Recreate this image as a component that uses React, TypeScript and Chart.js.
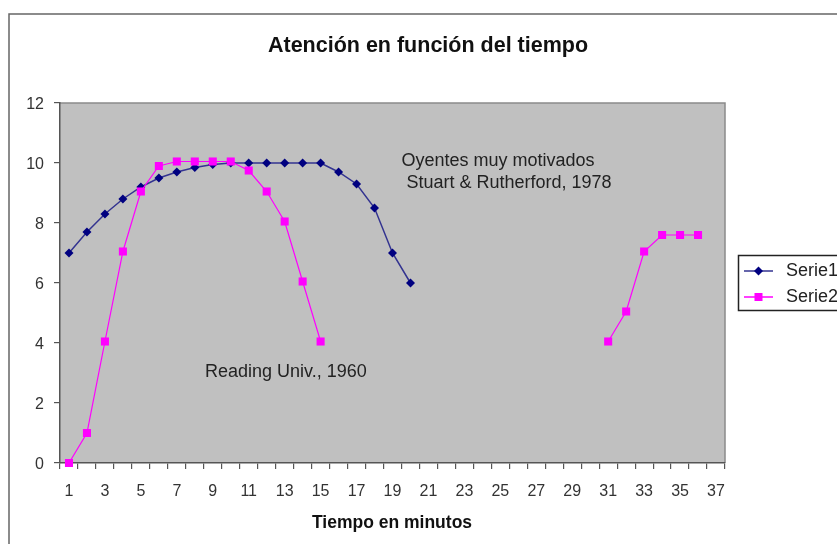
import React, { useEffect, useRef } from 'react';
import { Chart, registerables } from 'chart.js';

Chart.register(...registerables);

const FONT = '"Liberation Sans", Arial, sans-serif';

const categories = [
  '1', '2', '3', '4', '5', '6', '7', '8', '9', '10',
  '11', '12', '13', '14', '15', '16', '17', '18', '19', '20',
  '21', '22', '23', '24', '25', '26', '27', '28', '29', '30',
  '31', '32', '33', '34', '35', '36', '37',
];

const serie1 = [
  7, 7.7, 8.3, 8.8, 9.2, 9.5, 9.7, 9.85, 9.95, 10,
  10, 10, 10, 10, 10, 9.7, 9.3, 8.5, 7, 6,
];

const serie2 = [
  0, 1, 4.05, 7.05, 9.05, 9.9, 10.05, 10.05, 10.05, 10.05,
  9.75, 9.05, 8.05, 6.05, 4.05, null, null, null, null, null,
  null, null, null, null, null, null, null, null, null, null,
  4.05, 5.05, 7.05, 7.6, 7.6, 7.6,
];

const yTicks = [0, 2, 4, 6, 8, 10, 12];

const titleText = 'Atención en función del tiempo';
const xAxisTitle = 'Tiempo en minutos';
const legendLabels = ['Serie1', 'Serie2'];

const annotations = [
  { text: 'Oyentes muy motivados', minute: 19.5, value: 10.05 },
  { text: ' Stuart & Rutherford, 1978', minute: 19.5, value: 9.33 },
  { text: 'Reading Univ., 1960', minute: 8.57, value: 3.03 },
];

const NAVY = '#000080';
const NAVY_LINE = '#333390';
const MAGENTA = '#ff00ff';

function diamond(ctx: CanvasRenderingContext2D, x: number, y: number, r: number) {
  ctx.beginPath();
  ctx.moveTo(x, y - r);
  ctx.lineTo(x + r, y);
  ctx.lineTo(x, y + r);
  ctx.lineTo(x - r, y);
  ctx.closePath();
  ctx.fill();
}

const decorPlugin = {
  id: 'decor',
  beforeDraw(chart: any) {
    const { ctx, chartArea } = chart;
    ctx.save();
    ctx.fillStyle = '#ffffff';
    ctx.fillRect(0, 0, chart.width, chart.height);
    ctx.strokeStyle = '#666666';
    ctx.lineWidth = 1.5;
    ctx.strokeRect(9, 14, chart.width + 20, chart.height + 20);
    ctx.fillStyle = '#c0c0c0';
    ctx.fillRect(chartArea.left, chartArea.top, chartArea.right - chartArea.left, chartArea.bottom - chartArea.top);
    ctx.strokeStyle = '#8a8a8a';
    ctx.lineWidth = 1.5;
    ctx.beginPath();
    ctx.moveTo(chartArea.left, chartArea.top);
    ctx.lineTo(chartArea.right, chartArea.top);
    ctx.lineTo(chartArea.right, chartArea.bottom);
    ctx.stroke();

    // title
    ctx.fillStyle = '#111111';
    ctx.textAlign = 'center';
    ctx.textBaseline = 'middle';
    ctx.font = `bold 21.5px ${FONT}`;
    ctx.fillText(titleText, 428, 46);
    ctx.font = `bold 17.5px ${FONT}`;
    ctx.fillText(xAxisTitle, 392, 523);

    // annotations
    const xs = chart.scales.x;
    const ys = chart.scales.y;
    ctx.font = `18px ${FONT}`;
    ctx.textAlign = 'left';
    ctx.fillStyle = '#222222';
    annotations.forEach((a) => {
      ctx.fillText(a.text, xs.getPixelForValue(a.minute - 1), ys.getPixelForValue(a.value));
    });
    ctx.restore();
  },
  afterDraw(chart: any) {
    const { ctx } = chart;
    ctx.save();
    // legend
    const lx = 738.5;
    const ly = 255.5;
    ctx.fillStyle = '#ffffff';
    ctx.fillRect(lx, ly, 120, 55);
    ctx.strokeStyle = '#222222';
    ctx.lineWidth = 1.5;
    ctx.strokeRect(lx, ly, 120, 55);
    const rows = [271, 297];
    // serie1
    ctx.strokeStyle = NAVY_LINE;
    ctx.lineWidth = 1.5;
    ctx.beginPath();
    ctx.moveTo(744, rows[0]);
    ctx.lineTo(773, rows[0]);
    ctx.stroke();
    ctx.fillStyle = NAVY;
    diamond(ctx, 758.5, rows[0], 4.5);
    // serie2
    ctx.strokeStyle = MAGENTA;
    ctx.beginPath();
    ctx.moveTo(744, rows[1]);
    ctx.lineTo(773, rows[1]);
    ctx.stroke();
    ctx.fillStyle = MAGENTA;
    ctx.fillRect(754.5, rows[1] - 4, 8, 8);
    ctx.fillStyle = '#222222';
    ctx.font = `18px ${FONT}`;
    ctx.textAlign = 'left';
    ctx.textBaseline = 'middle';
    ctx.fillText(legendLabels[0], 786, rows[0]);
    ctx.fillText(legendLabels[1], 786, rows[1]);
    ctx.restore();
  },
};

export default function App() {
  const ref = useRef<HTMLCanvasElement | null>(null);

  useEffect(() => {
    if (!ref.current) return;
    const chart = new Chart(ref.current, {
      type: 'line',
      data: {
        labels: categories,
        datasets: [
          {
            label: legendLabels[0],
            data: serie1,
            borderColor: NAVY_LINE,
            backgroundColor: NAVY,
            borderWidth: 1.5,
            pointStyle: 'rectRot',
            pointRadius: 4.5,
            pointBorderWidth: 0,
            pointBackgroundColor: NAVY,
            tension: 0,
            order: 1,
            clip: false,
          },
          {
            label: legendLabels[1],
            data: serie2,
            borderColor: MAGENTA,
            backgroundColor: MAGENTA,
            borderWidth: 1.2,
            pointStyle: 'rect',
            pointRadius: 5.7,
            pointBorderWidth: 0,
            pointBackgroundColor: MAGENTA,
            tension: 0,
            spanGaps: false,
            order: 0,
            clip: false,
          },
        ],
      },
      options: {
        animation: false,
        responsive: false,
        devicePixelRatio: 1,
        layout: { padding: { top: 103, right: 112, left: 0, bottom: 0 } },
        plugins: {
          legend: { display: false },
          title: { display: false },
          tooltip: { enabled: false },
        },
        scales: {
          x: {
            type: 'category',
            offset: true,
            grid: {
              offset: true,
              drawOnChartArea: false,
              tickLength: 6,
              color: '#555555',
              lineWidth: 1.2,
            },
            border: { color: '#555555', width: 1.5 },
            ticks: {
              autoSkip: false,
              maxRotation: 0,
              minRotation: 0,
              padding: 13,
              color: '#333333',
              font: { family: FONT, size: 16 },
              callback: (_v: any, i: number) => (i % 2 === 0 ? categories[i] : ''),
            },
            afterFit: (s: any) => {
              s.height = 81;
            },
          },
          y: {
            min: 0,
            max: 12,
            afterBuildTicks: (s: any) => {
              s.ticks = yTicks.map((v) => ({ value: v }));
            },
            grid: {
              drawOnChartArea: false,
              tickLength: 6,
              color: '#555555',
              lineWidth: 1.2,
            },
            border: { color: '#555555', width: 1.5 },
            ticks: {
              padding: 10,
              labelOffset: 2,
              color: '#333333',
              font: { family: FONT, size: 16 },
            },
            afterFit: (s: any) => {
              s.width = 60;
            },
          },
        },
      },
      plugins: [decorPlugin],
    });
    return () => chart.destroy();
  }, []);

  return (
    <div style={{ position: 'absolute', left: 0, top: 0, width: 837, height: 544 }}>
      <canvas ref={ref} width={837} height={544} style={{ width: 837, height: 544, display: 'block' }} />
    </div>
  );
}
